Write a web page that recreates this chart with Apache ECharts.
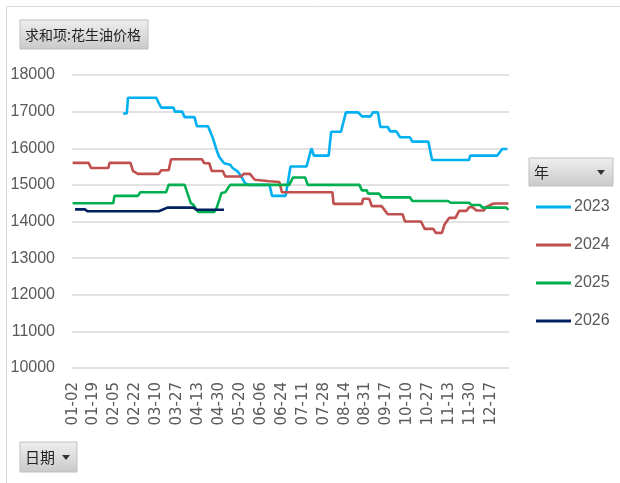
<!DOCTYPE html>
<html>
<head>
<meta charset="utf-8">
<script src="https://cdn.jsdelivr.net/npm/echarts@6/dist/echarts.min.js"></script>
<style>
  html, body { margin: 0; padding: 0; background: #fff; }
  #chart { width: 620px; height: 483px; }
</style>
</head>
<body>
<div id="chart"></div>
<script>
// month lengths (leap year, 02-29 present) and days that never appear in the data
const monthDays = [31, 29, 31, 30, 31, 30, 31, 31, 30, 31, 30, 31];
const skipDays = ['01-01', '05-01', '05-02', '05-03', '06-22', '10-01', '10-02', '10-03', '10-04', '10-05', '10-06'];

const seriesNames = ['2023', '2024', '2025', '2026'];
const seriesColors = ['#00B0F0', '#C0504D', '#00B050', '#002060'];

// [date, price] vertices
const s2023 = [
    ['02-12', 16950], ['02-15', 16950], ['02-16', 17380], ['03-10', 17380], ['03-12', 17230],
    ['03-14', 17110], ['03-24', 17110], ['03-25', 17000], ['03-31', 17000], ['04-02', 16850],
    ['04-10', 16850], ['04-12', 16600], ['04-21', 16600], ['04-25', 16270], ['04-28', 15950],
    ['04-30', 15770], ['05-07', 15590], ['05-12', 15550], ['05-14', 15460], ['05-18', 15370],
    ['05-21', 15230], ['05-24', 15050], ['05-27', 15000], ['06-13', 15000], ['06-15', 14700],
    ['06-27', 14700], ['07-01', 15500], ['07-14', 15500], ['07-18', 16000], ['07-20', 15800],
    ['08-01', 15800], ['08-03', 16450], ['08-11', 16450], ['08-15', 16980], ['08-25', 16980],
    ['08-28', 16870], ['09-04', 16870], ['09-06', 16980], ['09-10', 16980], ['09-12', 16580],
    ['09-18', 16580], ['09-20', 16460], ['09-25', 16460], ['09-28', 16300], ['10-12', 16300],
    ['10-14', 16180], ['10-27', 16180], ['10-30', 15680], ['11-29', 15680], ['11-30', 15800],
    ['12-22', 15800], ['12-26', 15980], ['12-30', 15980]
];
const s2024 = [
    ['01-02', 15600], ['01-15', 15600], ['01-17', 15460], ['01-31', 15460], ['02-01', 15600],
    ['02-18', 15600], ['02-20', 15380], ['02-24', 15300], ['03-12', 15300], ['03-14', 15400],
    ['03-20', 15400], ['03-22', 15700], ['04-16', 15700], ['04-18', 15590], ['04-22', 15590],
    ['04-24', 15380], ['05-06', 15380], ['05-08', 15230], ['05-21', 15230], ['05-23', 15300],
    ['05-28', 15300], ['06-01', 15140], ['06-13', 15100], ['06-21', 15080], ['06-24', 14800],
    ['08-04', 14800], ['08-05', 14480], ['08-28', 14480], ['08-29', 14620], ['09-03', 14620],
    ['09-05', 14420], ['09-13', 14420], ['09-18', 14200], ['09-30', 14200], ['10-08', 14000],
    ['10-21', 14000], ['10-24', 13800], ['10-31', 13800], ['11-02', 13690], ['11-07', 13690],
    ['11-09', 13910], ['11-13', 14100], ['11-18', 14100], ['11-21', 14290], ['11-27', 14290],
    ['11-29', 14390], ['12-02', 14390], ['12-05', 14300], ['12-11', 14300], ['12-13', 14400],
    ['12-19', 14490], ['12-31', 14490]
];
const s2025 = [
    ['01-02', 14500], ['02-04', 14500], ['02-05', 14700], ['02-24', 14700], ['02-26', 14800],
    ['03-18', 14800], ['03-20', 15000], ['04-02', 15000], ['04-07', 14500], ['04-09', 14460],
    ['04-13', 14260], ['04-26', 14260], ['04-28', 14370], ['05-05', 14780], ['05-08', 14800],
    ['05-12', 15000], ['06-30', 15000], ['07-03', 15200], ['07-13', 15200], ['07-15', 15000],
    ['08-26', 15000], ['08-28', 14850], ['09-01', 14850], ['09-02', 14760], ['09-11', 14760],
    ['09-13', 14660], ['10-12', 14660], ['10-14', 14560], ['11-12', 14560], ['11-14', 14510],
    ['11-29', 14510], ['12-01', 14450], ['12-08', 14450], ['12-10', 14380], ['12-29', 14380],
    ['12-31', 14320]
];
const s2026 = [
    ['01-04', 14330], ['01-12', 14330], ['01-14', 14280], ['03-12', 14280], ['03-19', 14380],
    ['04-09', 14380], ['04-12', 14320], ['05-07', 14320]
];
const seriesData = [s2023, s2024, s2025, s2026];

const pad = n => (n < 10 ? '0' : '') + n;
const dates = [];
monthDays.forEach((len, m) => {
    for (let d = 1; d <= len; d++) {
        const key = pad(m + 1) + '-' + pad(d);
        if (skipDays.indexOf(key) < 0) dates.push(key);
    }
});

const numFont = "'Liberation Sans Narrow', 'Liberation Sans', sans-serif";
const cjkFont = "'Noto Sans CJK SC', sans-serif";
const btnFill = {
    type: 'linear', x: 0, y: 0, x2: 0, y2: 1,
    colorStops: [{offset: 0, color: '#efefef'}, {offset: 1, color: '#c9c9c9'}]
};

function button(x, y, w, h, text, size) {
    return {
        type: 'group', x: x, y: y,
        children: [
            {type: 'rect', shape: {x: 0, y: 0, width: w, height: h}, style: {fill: btnFill, stroke: '#bfbfbf', lineWidth: 1}},
            {type: 'text', x: 5, y: h / 2, style: {text: text, font: size + 'px ' + cjkFont, fill: '#222', verticalAlign: 'middle'}}
        ]
    };
}
function triangle(cx, cy) {
    return {type: 'polygon', shape: {points: [[cx - 4, cy - 2], [cx + 4, cy - 2], [cx, cy + 3]]}, style: {fill: '#333'}};
}

const myChart = echarts.init(document.getElementById('chart'));
myChart.setOption({
    animation: false,
    grid: {left: 72, right: 111, top: 75, bottom: 115},
    legend: {
        orient: 'vertical',
        left: 536,
        top: 199,
        padding: 0,
        itemWidth: 35,
        itemHeight: 3,
        itemGap: 22,
        icon: 'rect',
        data: seriesNames,
        textStyle: {fontFamily: numFont, fontSize: 16, color: '#595959', lineHeight: 16, padding: [0, 0, 0, -2]}
    },
    xAxis: {
        type: 'category',
        data: dates,
        boundaryGap: true,
        axisLine: {show: false},
        axisTick: {show: false},
        axisLabel: {
            interval: 16,
            rotate: 90,
            margin: 14,
            fontFamily: 'DejaVu Sans',
            fontSize: 15,
            color: '#595959'
        },
        splitLine: {show: false}
    },
    yAxis: {
        type: 'value',
        min: 10000,
        max: 18000,
        interval: 1000,
        axisLine: {show: false},
        axisTick: {show: false},
        axisLabel: {
            margin: 17,
            fontFamily: numFont,
            fontSize: 16,
            color: '#595959',
            formatter: value => String(value)
        },
        splitLine: {lineStyle: {color: '#d9d9d9', width: 1.5}}
    },
    series: seriesNames.map((name, i) => ({
        name: name,
        type: 'line',
        data: seriesData[i],
        showSymbol: false,
        color: seriesColors[i],
        lineStyle: {width: 2.6, color: seriesColors[i]}
    })),
    graphic: [
        {type: 'rect', shape: {x: 6.5, y: 6.5, width: 640, height: 500}, style: {fill: 'none', stroke: '#d9d9d9', lineWidth: 1}},
        button(20, 20, 128, 29, '求和项:花生油价格', 14),
        button(529, 158, 84, 28, '年', 15),
        triangle(601, 172),
        button(20, 442, 57, 30, '日期', 15),
        triangle(66, 457)
    ]
});
</script>
</body>
</html>
